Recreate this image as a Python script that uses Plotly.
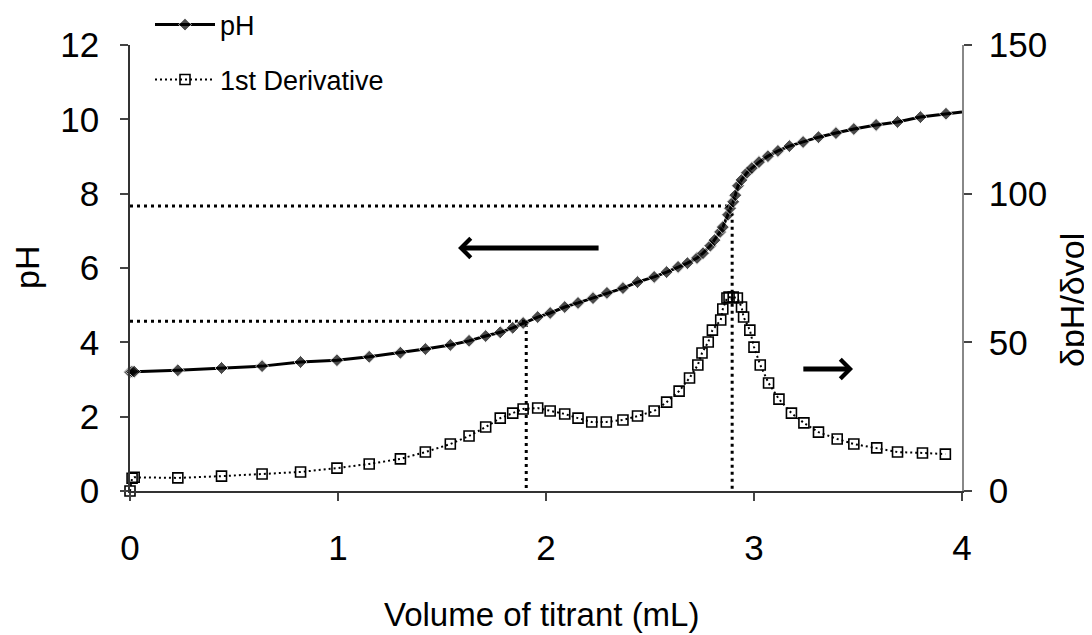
import plotly.graph_objects as go

# ---------------- data ----------------
vol_ph = [0, 0.01, 0.02, 0.23, 0.44, 0.635, 0.82, 0.995, 1.15, 1.30, 1.42, 1.54, 1.63, 1.71,
          1.78, 1.84, 1.89, 1.96, 2.02, 2.09, 2.154, 2.226, 2.293, 2.37, 2.44, 2.52, 2.58,
          2.635, 2.68, 2.726, 2.755, 2.79, 2.81, 2.837, 2.85, 2.875, 2.885, 2.9, 2.91, 2.923,
          2.94, 2.966, 2.99, 3.024, 3.067, 3.115, 3.17, 3.236, 3.31, 3.394, 3.48, 3.587, 3.69,
          3.80, 3.923, 4.0]
ph = [3.2, 3.21, 3.21, 3.25, 3.31, 3.36, 3.47, 3.52, 3.61, 3.72, 3.82, 3.93, 4.04, 4.17,
      4.27, 4.39, 4.52, 4.68, 4.79, 4.95, 5.06, 5.19, 5.33, 5.46, 5.62, 5.76, 5.89,
      6.03, 6.13, 6.27, 6.40, 6.60, 6.75, 6.97, 7.10, 7.43, 7.61, 7.78, 7.96, 8.21,
      8.37, 8.56, 8.69, 8.85, 9.01, 9.15, 9.28, 9.39, 9.52, 9.63, 9.74, 9.85, 9.93,
      10.06, 10.15, 10.2]

vol_deriv = [0, 0.01, 0.02, 0.23, 0.44, 0.635, 0.82, 0.995, 1.15, 1.30, 1.42, 1.54, 1.63, 1.71,
             1.78, 1.84, 1.89, 1.96, 2.02, 2.09, 2.154, 2.22, 2.29, 2.37, 2.44, 2.52, 2.58,
             2.64, 2.69, 2.73, 2.75, 2.78, 2.80, 2.84, 2.85, 2.87, 2.88, 2.9, 2.92, 2.94,
             2.95, 2.98, 3.0, 3.03, 3.07, 3.12, 3.18, 3.24, 3.31, 3.40, 3.48, 3.59, 3.69,
             3.81, 3.92]
deriv = [0, 4.3, 4.6, 4.4, 5.0, 5.7, 6.4, 7.7, 9.1, 10.8, 13.1, 15.8, 18.5, 21.5,
         24.5, 26.2, 27.6, 27.9, 26.9, 25.9, 24.5, 23.2, 23.2, 23.9, 25.2, 26.9, 29.9,
         33.6, 38.0, 42.4, 46.4, 50.1, 54.1, 57.5, 61.2, 64.9, 65.2, 65.2, 64.9, 61.9,
         58.5, 54.1, 48.4, 42.4, 36.3, 30.9, 26.2, 22.9, 19.8, 17.5, 15.8, 14.5, 13.1,
         12.8, 12.4]

# equivalence / half-equivalence guide points (volume, pH)
guide_vol = [1.905, 2.895]
guide_ph = [4.57, 7.67]

x_ticks = [0, 1, 2, 3, 4]
ph_ticks = [0, 2, 4, 6, 8, 10, 12]
deriv_ticks = [0, 50, 100, 150]

# ---------------- figure ----------------
FONT = "Liberation Sans, Arial, sans-serif"
W, H = 1084, 627
fig = go.Figure()

# dotted guide lines
for gv, gp in zip(guide_vol, guide_ph):
    fig.add_trace(go.Scatter(
        x=[0, gv, gv], y=[gp, gp, 0], mode="lines",
        line=dict(color="black", width=3, dash="3px,4px"),
        showlegend=False, hoverinfo="skip", cliponaxis=False))

# 1st derivative
fig.add_trace(go.Scatter(
    x=vol_deriv, y=deriv, yaxis="y2", name="1st Derivative", legend="legend2",
    mode="lines+markers",
    line=dict(color="black", width=2, dash="2px,3px"),
    marker=dict(symbol="square-open", size=10, color="black", line=dict(width=1.6)),
    cliponaxis=False))

# pH
msize = [10] * (len(vol_ph) - 1) + [0]
fig.add_trace(go.Scatter(
    x=vol_ph, y=ph, name="pH", legend="legend",
    mode="lines+markers",
    line=dict(color="black", width=3),
    marker=dict(symbol="diamond", size=msize, color="black"),
    cliponaxis=False))

# arrows indicating which axis each curve uses
arrow_specs = [
    dict(x=1.577, ax=2.26, y=6.54),
    dict(x=3.476, ax=3.23, y=3.28),
]
for a in arrow_specs:
    fig.add_annotation(x=a["x"], y=a["y"], ax=a["ax"], ay=a["y"],
                       xref="x", yref="y", axref="x", ayref="y",
                       text="", showarrow=True, arrowhead=4, arrowsize=0.75,
                       arrowwidth=5, arrowcolor="black")

# axis titles
fig.add_annotation(text="Volume of titrant (mL)", xref="paper", yref="paper",
                   x=0.494, y=0, yshift=-123, xanchor="center", yanchor="middle",
                   showarrow=False, font=dict(family=FONT, size=33, color="black"))
fig.add_annotation(text="pH", xref="paper", yref="paper", textangle=-90,
                   x=0, xshift=-103, y=0.5, xanchor="center", yanchor="middle",
                   showarrow=False, font=dict(family=FONT, size=34, color="black"))
fig.add_annotation(text="δpH/δvol", xref="paper", yref="paper", textangle=-90,
                   x=1, xshift=110, y=0.5, yshift=-32, xanchor="center", yanchor="middle",
                   showarrow=False, font=dict(family=FONT, size=34, color="black"))

axis_common = dict(showgrid=False, zeroline=False, showline=True, ticks="outside",
                   ticklen=8, tickwidth=1.5, tickcolor="#444", linewidth=1.5,
                   tickfont=dict(family=FONT, size=35, color="black"))

fig.update_layout(
    width=W, height=H,
    margin=dict(l=122, r=130, t=37, b=144, autoexpand=False),
    paper_bgcolor="white", plot_bgcolor="white",
    font=dict(family=FONT, color="black"),
    xaxis=dict(range=[0, 4], tickvals=x_ticks, linecolor="#333", ticklabelstandoff=17,
               **axis_common),
    yaxis=dict(range=[0, 12], tickvals=ph_ticks, linecolor="#333", ticklabelstandoff=14,
               **axis_common),
    yaxis2=dict(range=[0, 150], tickvals=deriv_ticks, overlaying="y", side="right",
                linecolor="#888", ticklabelstandoff=10, **axis_common),
    legend=dict(x=142 / W, y=1 - 17 / H, xref="container", yref="container",
                xanchor="left", yanchor="middle", itemwidth=60,
                bgcolor="rgba(0,0,0,0)", font=dict(family=FONT, size=27)),
    legend2=dict(x=142 / W, y=1 - 72 / H, xref="container", yref="container",
                 xanchor="left", yanchor="middle", itemwidth=60,
                 bgcolor="rgba(0,0,0,0)", font=dict(family=FONT, size=27)),
    showlegend=True,
)

fig.write_html("out.html")
